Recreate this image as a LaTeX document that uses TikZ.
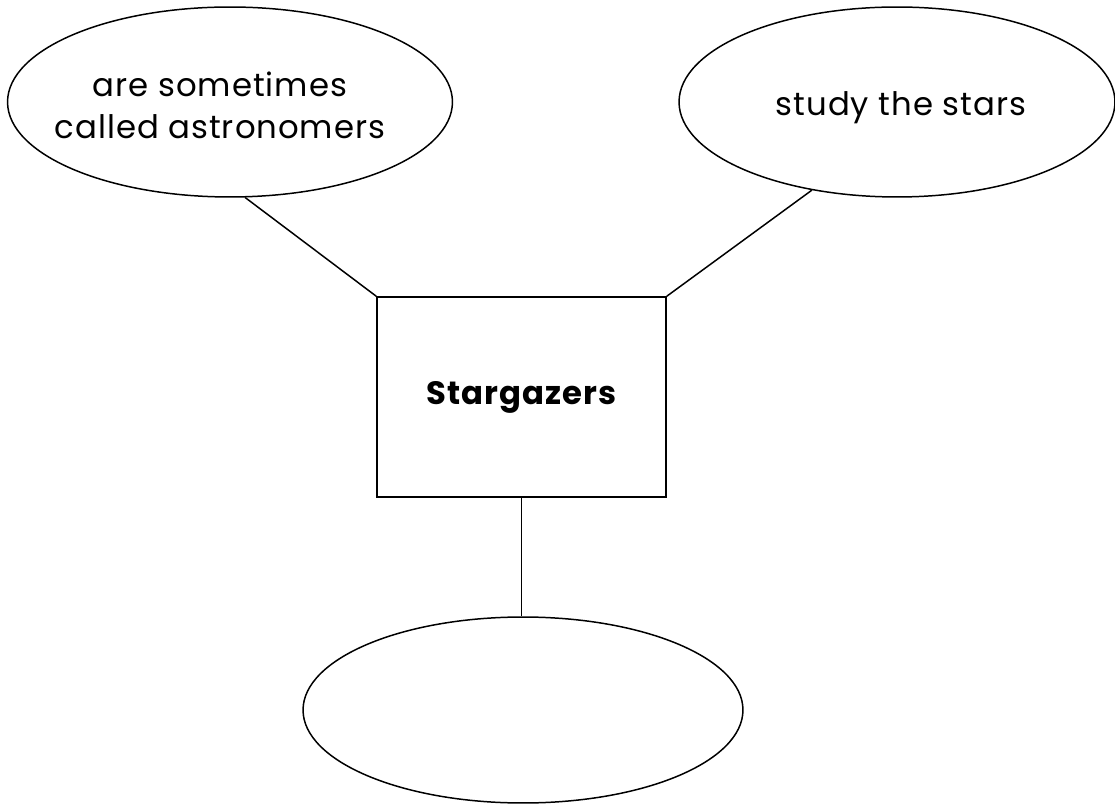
\documentclass[tikz,border=0pt]{standalone}
\usepackage{fontspec}
\setmainfont[LetterSpace=3]{Poppins}
\usetikzlibrary{shapes.geometric}
\begin{document}
\begin{tikzpicture}[x=0.02cm,y=0.02cm,
	bubble/.style={draw,ellipse,line width=0.85pt,inner sep=0pt},
	topic/.style={draw,rectangle,line width=0.85pt,minimum width=5.78cm,minimum height=4cm,
		font=\bfseries\fontsize{18.4}{24}\selectfont},
	words/.style={align=center,font=\fontsize{18.4}{24}\selectfont},
	link/.style={line width=0.85pt}]
	\useasboundingbox (0,0) rectangle (1115,805);

	\node [bubble,minimum width=8.9cm,minimum height=3.8cm] (astro) at (230,703) {};
	\node [words] (astrotext) at (220,700)
	{
		are sometimes\\
		called astronomers
	};
	\node [bubble,minimum width=8.72cm,minimum height=3.8cm] (stars) at (897,703) {};
	\node [words] (starstext) at (901,697) {study the stars};
	\node [topic] (gazers) at (521.5,408) {Stargazers};
	\node [bubble,minimum width=8.8cm,minimum height=3.72cm] (blank) at (523,95) {};

	\draw [link] (astro.-81) -- (gazers.north west);
	\draw [link] (stars.-134) -- (gazers.north east);
	\draw [link] (gazers.south) -- (gazers.south |- blank.north);
\end{tikzpicture}
\end{document}
